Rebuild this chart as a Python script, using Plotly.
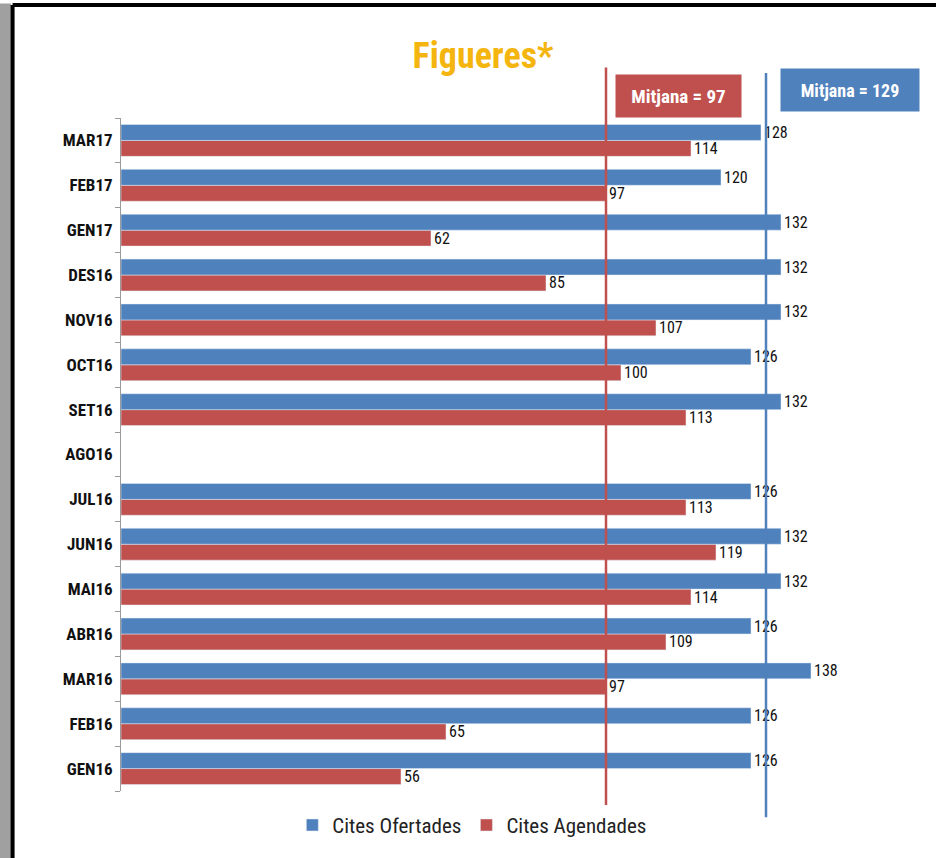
import plotly.graph_objects as go

# categories bottom -> top
months = ["GEN16", "FEB16", "MAR16", "ABR16", "MAI16", "JUN16", "JUL16", "AGO16",
          "SET16", "OCT16", "NOV16", "DES16", "GEN17", "FEB17", "MAR17"]
ofertades = [126, 126, 138, 126, 132, 132, 126, None, 132, 126, 132, 132, 132, 120, 128]
agendades = [56, 65, 97, 109, 114, 119, 113, None, 113, 100, 107, 85, 62, 97, 114]
mitjana_agendades = 97
mitjana_ofertades = 129

BLUE = "#4F81BD"
RED = "#C0504D"
FONT = "Liberation Sans Narrow, Roboto Condensed, Roboto, sans-serif"

fig = go.Figure()

# red first so blue sits on top inside each group; legend reversed
fig.add_trace(go.Bar(
    y=months, x=agendades, orientation="h", name="Cites Agendades",
    marker=dict(color=RED),
    text=[str(v) if v is not None else "" for v in agendades],
    textposition="outside", cliponaxis=False, constraintext="none",
    textfont=dict(family=FONT, size=16, color="#111111"),
))
fig.add_trace(go.Bar(
    y=months, x=ofertades, orientation="h", name="Cites Ofertades",
    marker=dict(color=BLUE),
    text=[str(v) if v is not None else "" for v in ofertades],
    textposition="outside", cliponaxis=False, constraintext="none",
    textfont=dict(family=FONT, size=16, color="#111111"),
))

# mean lines
fig.add_shape(type="line", xref="x", yref="paper",
              x0=mitjana_agendades, x1=mitjana_agendades, y0=-0.066, y1=1.075,
              line=dict(color=RED, width=2.5))
fig.add_shape(type="line", xref="x", yref="paper",
              x0=mitjana_ofertades, x1=mitjana_ofertades, y0=-0.039, y1=1.067,
              line=dict(color=BLUE, width=2.5))

# mean labels
fig.add_annotation(xref="paper", yref="paper", x=0.758, y=1.033,
                   xanchor="center", yanchor="middle",
                   text="<b>Mitjana = %d</b>" % mitjana_agendades, showarrow=False,
                   bgcolor=RED, width=123, height=40,
                   font=dict(family=FONT, size=19, color="white"))
fig.add_annotation(xref="paper", yref="paper", x=0.992, y=1.041,
                   xanchor="center", yanchor="middle",
                   text="<b>Mitjana = %d</b>" % mitjana_ofertades, showarrow=False,
                   bgcolor=BLUE, width=136, height=40,
                   font=dict(family=FONT, size=18, color="white"))

# frame: grey shadow on the left, black border top/left
fig.add_shape(type="rect", xref="paper", yref="paper",
              x0=-0.1646, x1=-0.1497, y0=-0.11, y1=1.17,
              fillcolor="#a0a0a0", line=dict(width=0), layer="below")
fig.add_shape(type="line", xref="paper", yref="paper",
              x0=-0.1475, x1=1.11, y0=1.168, y1=1.168,
              line=dict(color="black", width=4))
fig.add_shape(type="line", xref="paper", yref="paper",
              x0=-0.1475, x1=-0.1475, y0=-0.11, y1=1.168,
              line=dict(color="black", width=4))

fig.update_layout(
    width=936, height=858,
    barmode="group", bargap=0.29, bargroupgap=0.0,
    paper_bgcolor="white", plot_bgcolor="white",
    margin=dict(l=121, r=80, t=118, b=65),
    title=dict(text="<b>Figueres*</b>", x=0.516, y=0.936, xanchor="center", yanchor="middle",
               font=dict(family=FONT, size=36, color="#F5B50F")),
    xaxis=dict(range=[0, 147], visible=False, showgrid=False, zeroline=False),
    yaxis=dict(showgrid=False, showline=True, linecolor="#9a9a9a", linewidth=1,
               ticks="outside", ticklen=5, tickcolor="#9a9a9a", tickson="boundaries",
               tickfont=dict(family=FONT, size=17, color="#111111"),
               ticklabelstandoff=4),
    legend=dict(orientation="h", traceorder="reversed", x=0.478, y=-0.051,
                xanchor="center", yanchor="middle",
                font=dict(family=FONT, size=21, color="#222222")),
)
fig.update_yaxes(tickprefix="<b>", ticksuffix="</b>")

fig.write_html("out.html", config={"displayModeBar": False},
               post_script="document.body.style.margin='0';")
